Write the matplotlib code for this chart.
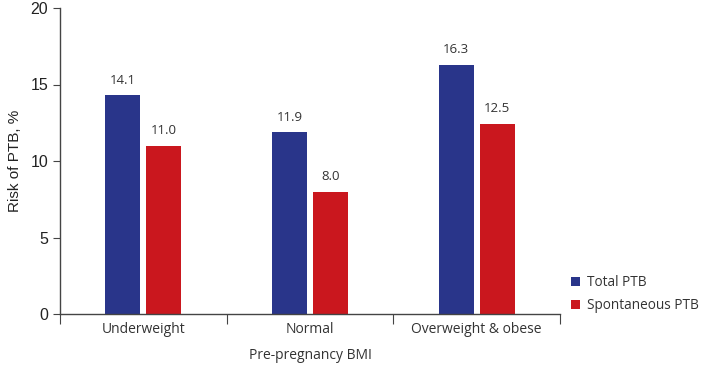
import matplotlib.pyplot as plt
import numpy as np

categories = ["Underweight", "Normal", "Overweight & obese"]
total_ptb = [14.3, 11.9, 16.3]
spont_ptb = [11.0, 8.0, 12.45]
total_labels = ["14.1", "11.9", "16.3"]
spont_labels = ["11.0", "8.0", "12.5"]

blue = "#29358A"
red = "#CA171E"
txt = "#333333"

fig = plt.figure(figsize=(7.01, 3.74), dpi=100)
ax = fig.add_axes([60 / 701, 60 / 374, 500 / 701, 306 / 374])

x = np.arange(len(categories))
w = 0.21
off = 0.123
b1 = ax.bar(x - off, total_ptb, w, color=blue, label="Total PTB")
b2 = ax.bar(x + off, spont_ptb, w, color=red, label="Spontaneous PTB")

for bars, labs in ((b1, total_labels), (b2, spont_labels)):
    for b, s in zip(bars, labs):
        ax.annotate(s, (b.get_x() + b.get_width() / 2, b.get_height()),
                    xytext=(0, 6), textcoords="offset points",
                    ha="center", va="bottom", fontsize=9.5, color=txt,
                    family="Open Sans")

ax.set_xlim(-0.5, 2.5)
ax.set_ylim(0, 20)
ax.set_yticks([0, 5, 10, 15, 20])
ax.tick_params(axis="y", labelsize=11.5, length=5, color="#444444",
               labelcolor="#222222")
for t in ax.get_yticklabels():
    t.set_family("Liberation Sans")

ax.set_xticks([-0.5, 0.5, 1.5, 2.5])
ax.set_xticklabels([])
ax.tick_params(axis="x", which="major", length=7, color="#444444")
ax.set_xticks(x, minor=True)
ax.set_xticklabels(categories, minor=True, fontsize=10, color=txt,
                   family="Open Sans")
ax.tick_params(axis="x", which="minor", length=0, pad=6)

ax.set_xlabel("Pre-pregnancy BMI", fontsize=10, color=txt,
              family="Open Sans", labelpad=8)
ax.set_ylabel("Risk of PTB, %", fontsize=11, color="#222222",
              family="Liberation Sans", labelpad=6)

for s in ("top", "right"):
    ax.spines[s].set_visible(False)
for s in ("left", "bottom"):
    ax.spines[s].set_color("#444444")
    ax.spines[s].set_linewidth(1)

leg = ax.legend(loc="lower left", bbox_to_anchor=(1.012, -0.015), frameon=False,
                borderaxespad=0, handlelength=0.65, handleheight=0.65,
                handletextpad=0.5, labelspacing=0.6,
                prop={"family": "Open Sans", "size": 9.8})
for t in leg.get_texts():
    t.set_color(txt)

fig.savefig("out.png", dpi=100)
